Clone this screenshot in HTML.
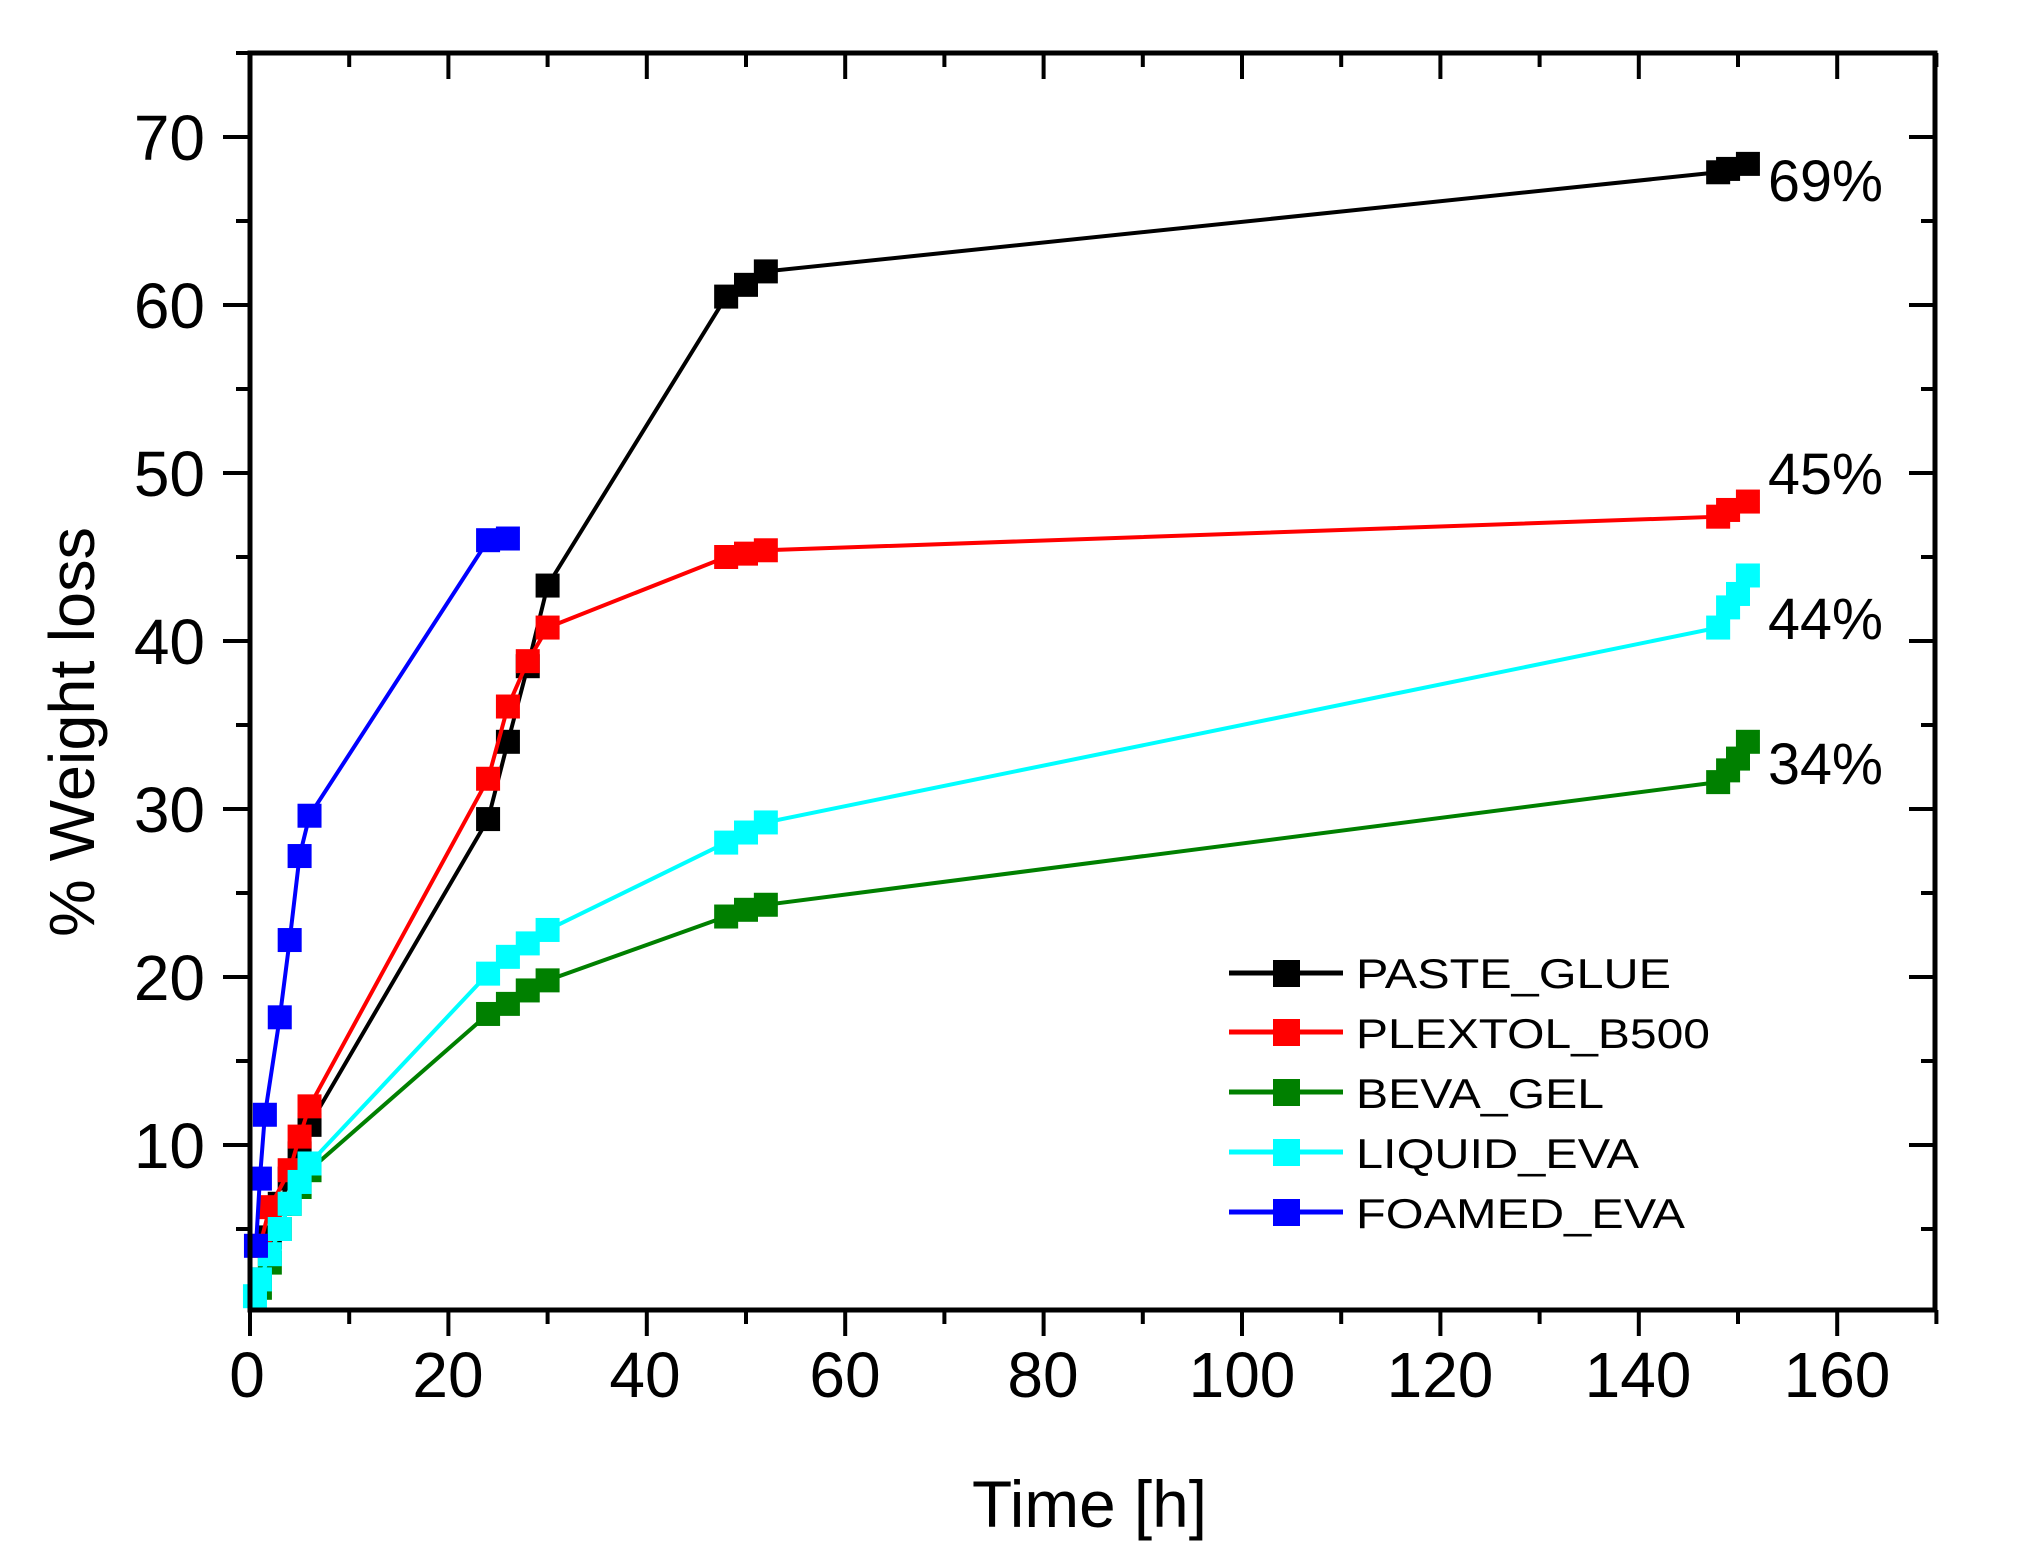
<!DOCTYPE html>
<html><head><meta charset="utf-8"><style>
html,body{margin:0;padding:0;background:#fff;}
svg{display:block;font-family:"Liberation Sans",Arial,sans-serif;}
</style></head><body>
<svg id="s" width="2020" height="1557" viewBox="0 0 2020 1557" xmlns="http://www.w3.org/2000/svg">
<rect x="0" y="0" width="2020" height="1557" fill="#fff"/>
<g id="ticks" stroke="#000"></g>
<g id="data"></g>
<rect x="250" y="53" width="1685" height="1257" fill="none" stroke="#000" stroke-width="5"/>
<g font-size="64" fill="#000" text-anchor="end">
<text x="205" y="1168">10</text>
<text x="205" y="1000">20</text>
<text x="205" y="832">30</text>
<text x="205" y="664">40</text>
<text x="205" y="496">50</text>
<text x="205" y="328">60</text>
<text x="205" y="160">70</text>
</g>
<g font-size="64" fill="#000" text-anchor="middle">
<text x="247" y="1397">0</text>
<text x="448" y="1397">20</text>
<text x="645" y="1397">40</text>
<text x="845" y="1397">60</text>
<text x="1043" y="1397">80</text>
<text x="1242" y="1397">100</text>
<text x="1440" y="1397">120</text>
<text x="1638" y="1397">140</text>
<text x="1837" y="1397">160</text>
</g>
<text x="972" y="1527" font-size="66" textLength="235" lengthAdjust="spacingAndGlyphs">Time [h]</text>
<text transform="translate(94,732) rotate(-90)" text-anchor="middle" font-size="64" textLength="410" lengthAdjust="spacingAndGlyphs">% Weight loss</text>
<g font-size="58" fill="#000">
<text x="1768" y="201" textLength="115" lengthAdjust="spacingAndGlyphs">69%</text>
<text x="1768" y="494" textLength="115" lengthAdjust="spacingAndGlyphs">45%</text>
<text x="1768" y="639" textLength="115" lengthAdjust="spacingAndGlyphs">44%</text>
<text x="1768" y="784" textLength="115" lengthAdjust="spacingAndGlyphs">34%</text>
</g>
<g id="legend"></g>
<g font-size="42" fill="#000">
<text x="1356" y="988" textLength="315" lengthAdjust="spacingAndGlyphs">PASTE_GLUE</text>
<text x="1356" y="1048" textLength="354" lengthAdjust="spacingAndGlyphs">PLEXTOL_B500</text>
<text x="1356" y="1108" textLength="248" lengthAdjust="spacingAndGlyphs">BEVA_GEL</text>
<text x="1356" y="1168" textLength="283" lengthAdjust="spacingAndGlyphs">LIQUID_EVA</text>
<text x="1356" y="1228" textLength="329" lengthAdjust="spacingAndGlyphs">FOAMED_EVA</text>
</g>
</svg>
<script>
var NS="http://www.w3.org/2000/svg";
function X(t){return 250+9.92*t;}
function Y(v){return 1313-16.8*v;}
function el(tag,attrs,parent){var e=document.createElementNS(NS,tag);for(var k in attrs)e.setAttribute(k,attrs[k]);parent.appendChild(e);return e;}
var tk=document.getElementById('ticks');
for(var t=0;t<=170;t+=10){var x=X(t),maj=(t%20==0);
 el('line',{x1:x,y1:1310,x2:x,y2:maj?1336:1324,'stroke-width':4},tk);
 el('line',{x1:x,y1:53,x2:x,y2:maj?79:67,'stroke-width':4},tk);}
for(var v=5;v<=75;v+=5){var y=Y(v),maj=(v%10==0);
 el('line',{x1:250,y1:y,x2:maj?223:236,y2:y,'stroke-width':4},tk);
 el('line',{x1:1935,y1:y,x2:maj?1909:1921,y2:y,'stroke-width':4},tk);}
var series=[
 ["#000",[[1,2],[2,4.5],[3,6.5],[4,8],[5,9.5],[6,11.2],[24,29.4],[26,34],[28,38.5],[30,43.3],[48,60.5],[50,61.2],[52,62],[148,67.9],[149,68.1],[151,68.4]]],
 ["#f00",[[1,4],[2,6.3],[4,8.5],[5,10.5],[6,12.3],[24,31.8],[26,36.1],[28,38.8],[30,40.8],[48,45],[50,45.2],[52,45.4],[148,47.4],[149,47.8],[151,48.3]]],
 ["#008000",[[1,1.5],[2,3],[3,5],[4,6.5],[5,7.5],[6,8.5],[24,17.8],[26,18.4],[28,19.2],[30,19.8],[48,23.6],[50,24],[52,24.3],[148,31.6],[149,32.3],[150,33],[151,34]]],
 ["#0ff",[[0.5,1],[1,2],[2,3.5],[3,5],[4,6.5],[5,7.8],[6,8.9],[24,20.2],[26,21.2],[28,22],[30,22.8],[48,28],[50,28.6],[52,29.2],[148,40.8],[149,42],[150,42.8],[151,43.9]]],
 ["#00f",[[0.6,4],[1,8],[1.5,11.8],[3,17.6],[4,22.2],[5,27.2],[6,29.6],[24,46],[26,46.1]]]
];
var dg=document.getElementById('data');
series.forEach(function(s){
 var pts=s[1].map(function(p){return X(p[0]).toFixed(1)+","+Y(p[1]).toFixed(1);}).join(" ");
 el('polyline',{points:pts,fill:'none',stroke:s[0],'stroke-width':4},dg);
 s[1].forEach(function(p){el('rect',{x:X(p[0])-12,y:Y(p[1])-12,width:24,height:24,fill:s[0]},dg);});
});
var lg=document.getElementById('legend');
[973,1032,1092,1152,1212].forEach(function(y,i){var c=series[i][0];
 el('line',{x1:1229,y1:y,x2:1343,y2:y,stroke:c,'stroke-width':5},lg);
 el('rect',{x:1273,y:y-13,width:27,height:27,fill:c},lg);});
</script>
</body></html>
